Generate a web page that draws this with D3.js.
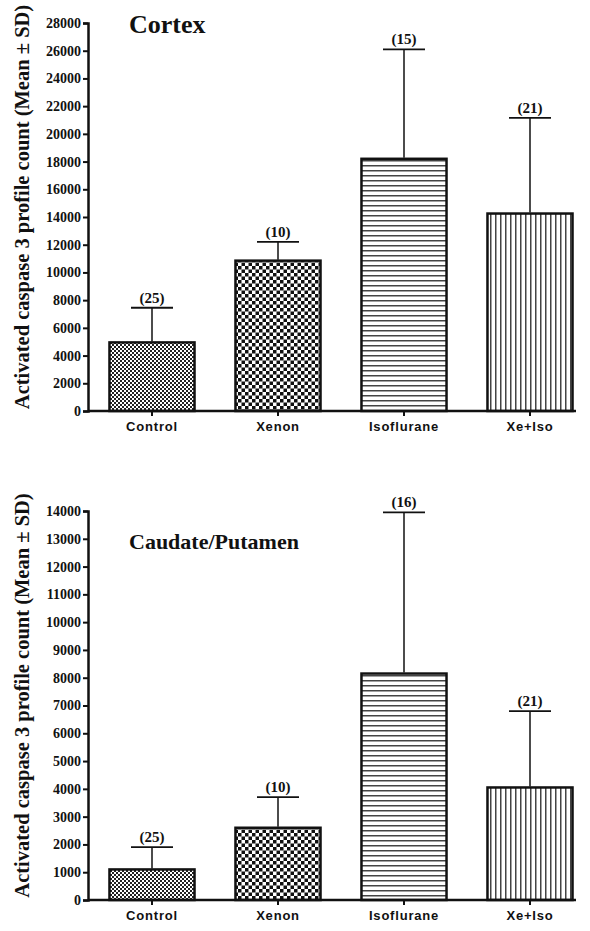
<!DOCTYPE html>
<html>
<head>
<meta charset="utf-8">
<script src="https://cdn.jsdelivr.net/npm/d3@7"></script>
<style>
  body { margin: 0; background: #fff; }
  svg { display: block; }
</style>
</head>
<body>
<script>
var groups = ['Control', 'Xenon', 'Isoflurane', 'Xe+Iso'];

var cortexMean = [4950, 10850, 18200, 14250];
var cortexSD = [2500, 1350, 7900, 6900];
var cortexN = ['(25)', '(10)', '(15)', '(21)'];
var cortexTicks = [0, 2000, 4000, 6000, 8000, 10000, 12000, 14000, 16000, 18000, 20000, 22000, 24000, 26000, 28000];

var caudateMean = [1100, 2600, 8150, 4050];
var caudateSD = [800, 1100, 5800, 2750];
var caudateN = ['(25)', '(10)', '(16)', '(21)'];
var caudateTicks = [0, 1000, 2000, 3000, 4000, 5000, 6000, 7000, 8000, 9000, 10000, 11000, 12000, 13000, 14000];

var fills = ['url(#checkFine)', 'url(#checkCoarse)', 'url(#hLines)', 'url(#vLines)'];

var svg = d3.select('body').append('svg')
  .attr('width', 590)
  .attr('height', 931);

var defs = svg.append('defs');

// fine checker for Control
var p1 = defs.append('pattern').attr('id', 'checkFine')
  .attr('patternUnits', 'userSpaceOnUse').attr('width', 4).attr('height', 4);
p1.append('rect').attr('width', 4).attr('height', 4).attr('fill', '#fff');
p1.append('rect').attr('width', 2).attr('height', 2).attr('fill', '#222');
p1.append('rect').attr('x', 2).attr('y', 2).attr('width', 2).attr('height', 2).attr('fill', '#222');

// coarse checker for Xenon
var p2 = defs.append('pattern').attr('id', 'checkCoarse')
  .attr('patternUnits', 'userSpaceOnUse').attr('width', 7).attr('height', 7);
p2.append('rect').attr('width', 7).attr('height', 7).attr('fill', '#fff');
p2.append('rect').attr('width', 3.5).attr('height', 3.5).attr('fill', '#111');
p2.append('rect').attr('x', 3.5).attr('y', 3.5).attr('width', 3.5).attr('height', 3.5).attr('fill', '#111');

// horizontal lines for Isoflurane
var p3 = defs.append('pattern').attr('id', 'hLines')
  .attr('patternUnits', 'userSpaceOnUse').attr('width', 10).attr('height', 5);
p3.append('rect').attr('width', 10).attr('height', 5).attr('fill', '#fff');
p3.append('rect').attr('y', 0).attr('width', 10).attr('height', 1.5).attr('fill', '#444');

// vertical lines for Xe+Iso
var p4 = defs.append('pattern').attr('id', 'vLines')
  .attr('patternUnits', 'userSpaceOnUse').attr('width', 5).attr('height', 10);
p4.append('rect').attr('width', 5).attr('height', 10).attr('fill', '#fff');
p4.append('rect').attr('x', 0).attr('width', 1.5).attr('height', 10).attr('fill', '#444');

function drawPanel(title, titleY, titleSize, means, sds, ns, ticks, top, bottom) {
  var g = svg.append('g');

  var x = d3.scaleBand().domain(groups).range([89, 593])
    .paddingInner(0.325).paddingOuter(0.1625);
  var y = d3.scaleLinear().domain([0, ticks[ticks.length - 1]]).range([bottom, top]);

  var data = groups.map(function(d, i) {
    return {name: d, mean: means[i], sd: sds[i], n: ns[i], fill: fills[i]};
  });

  // bars
  g.selectAll('rect.bar').data(data)
    .enter()
    .append('rect')
    .attr('class', 'bar')
    .attr('x', function(d) {return x(d.name)})
    .attr('y', function(d) {return y(d.mean)})
    .attr('width', x.bandwidth())
    .attr('height', function(d) {return y(0) - y(d.mean)})
    .attr('fill', function(d) {return d.fill})
    .attr('stroke', '#111')
    .attr('stroke-width', 2.5);

  // error bars (upper only)
  var eb = g.selectAll('g.err').data(data)
    .enter()
    .append('g')
    .attr('class', 'err');
  eb.append('line')
    .attr('x1', function(d) {return x(d.name) + x.bandwidth() / 2})
    .attr('x2', function(d) {return x(d.name) + x.bandwidth() / 2})
    .attr('y1', function(d) {return y(d.mean) - 1})
    .attr('y2', function(d) {return y(d.mean + d.sd)})
    .attr('stroke', '#111').attr('stroke-width', 1.5);
  eb.append('line')
    .attr('x1', function(d) {return x(d.name) + x.bandwidth() / 2 - 21})
    .attr('x2', function(d) {return x(d.name) + x.bandwidth() / 2 + 21})
    .attr('y1', function(d) {return y(d.mean + d.sd)})
    .attr('y2', function(d) {return y(d.mean + d.sd)})
    .attr('stroke', '#111').attr('stroke-width', 1.8);
  eb.append('text')
    .attr('x', function(d) {return x(d.name) + x.bandwidth() / 2})
    .attr('y', function(d) {return y(d.mean + d.sd) - 5})
    .attr('text-anchor', 'middle')
    .attr('font-family', 'Liberation Serif, Times New Roman, serif')
    .attr('font-weight', 'bold')
    .attr('font-size', '15px')
    .attr('fill', '#111')
    .text(function(d) {return d.n});

  // y axis
  var yAxis = d3.axisLeft(y).tickValues(ticks).tickSize(5).tickPadding(2)
    .tickFormat(function(d) {return d});
  var ya = g.append('g').attr('transform', 'translate(88,0)').call(yAxis);
  ya.select('.domain').attr('stroke', '#111').attr('stroke-width', 2.5);
  ya.selectAll('.tick line').attr('stroke', '#111').attr('stroke-width', 2);
  ya.selectAll('.tick text')
    .attr('font-family', 'Liberation Serif, Times New Roman, serif')
    .attr('font-weight', 'bold')
    .attr('font-size', '14px')
    .attr('fill', '#111');

  // x axis
  var xAxis = d3.axisBottom(x).tickSize(5).tickPadding(6).tickSizeOuter(0);
  var xa = g.append('g').attr('transform', 'translate(0,' + bottom + ')').call(xAxis);
  xa.select('.domain').attr('d', 'M88,0H576').attr('stroke', '#111').attr('stroke-width', 2.5);
  xa.selectAll('.tick line').attr('stroke', '#111').attr('stroke-width', 2);
  xa.selectAll('.tick text')
    .attr('font-family', 'Liberation Sans, Arial, sans-serif')
    .attr('font-weight', 'bold')
    .attr('font-size', '13px')
    .attr('letter-spacing', '0.8px')
    .attr('fill', '#111');

  // y label
  g.append('text')
    .attr('transform', 'translate(29,' + ((top + bottom) / 2 - 10) + ') rotate(-90)')
    .attr('text-anchor', 'middle')
    .attr('font-family', 'Liberation Serif, Times New Roman, serif')
    .attr('font-weight', 'bold')
    .attr('font-size', '20.5px')
    .attr('fill', '#111')
    .text('Activated caspase 3 profile count (Mean \u00b1 SD)');

  // title
  g.append('text')
    .attr('x', 129)
    .attr('y', titleY)
    .attr('font-family', 'Liberation Serif, Times New Roman, serif')
    .attr('font-weight', 'bold')
    .attr('font-size', titleSize)
    .attr('fill', '#111')
    .text(title);
}

drawPanel('Cortex', 33, '26px', cortexMean, cortexSD, cortexN, cortexTicks, 23, 411);
drawPanel('Caudate/Putamen', 549, '22px', caudateMean, caudateSD, caudateN, caudateTicks, 511, 900);
</script>
</body>
</html>
